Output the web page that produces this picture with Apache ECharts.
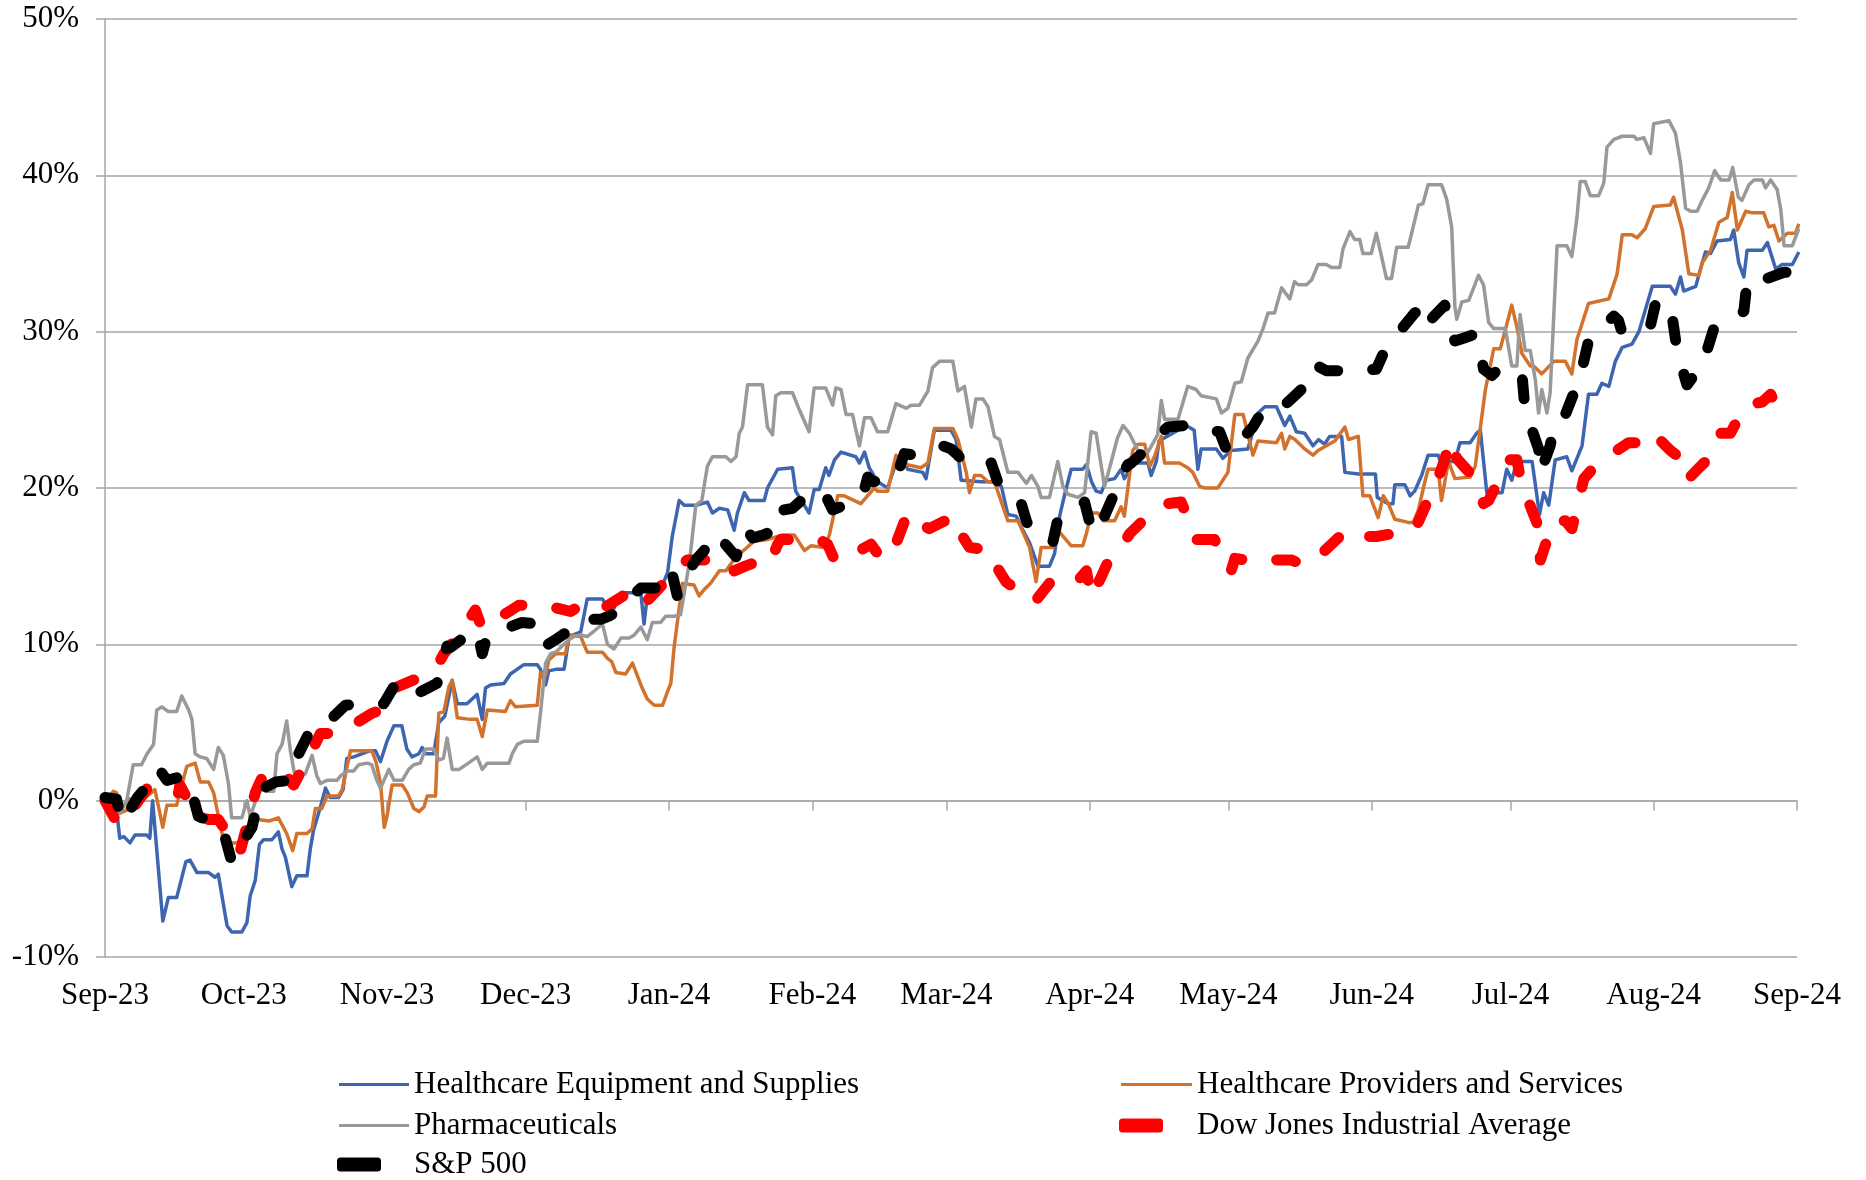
<!DOCTYPE html>
<html>
<head>
<meta charset="utf-8">
<script src="https://cdn.jsdelivr.net/npm/echarts@6/dist/echarts.min.js"></script>
<style>
  html, body { margin: 0; padding: 0; background: #fff; }
  #chart { width: 1866px; height: 1180px; }
</style>
</head>
<body>
<div id="chart"></div>
<script>
// x values are days after 2023-09-01, y values are % change
const startDay = Date.UTC(2023, 8, 1);
const endDay = Date.UTC(2024, 8, 1);
const monthNames = ['Jan', 'Feb', 'Mar', 'Apr', 'May', 'Jun', 'Jul', 'Aug', 'Sep', 'Oct', 'Nov', 'Dec'];

const healthEquip = [
  [0,0],[2.5,-0.6],[3.2,-2.4],[4.1,-2.3],[5.4,-2.7],[6.5,-2.2],[9,-2.2],[9.7,-2.4],[10.3,0],[12.5,-7.7],[13.7,-6.2],[15.5,-6.2],
  [17.5,-3.9],[18.4,-3.8],[19.9,-4.6],[22.4,-4.6],[23.8,-4.9],[24.5,-4.7],[26.4,-8.0],[27.4,-8.4],[29.6,-8.4],[30.7,-7.8],
  [31.4,-6.1],[32.5,-5.1],[33.4,-2.8],[34.3,-2.5],[36.1,-2.5],[37.5,-2.0],[38.3,-3.1],[39,-3.6],[40.4,-5.5],[41.5,-4.8],
  [43.7,-4.8],[44.4,-3.1],[45.1,-1.9],[46.6,-0.4],[47.7,0.8],[48.7,0.2],[50.5,0.2],[51.5,0.7],[52.3,2.7],[53.8,2.8],
  [57.4,3.2],[58.5,3.2],[59.6,2.5],[61,3.8],[62.5,4.8],[64.2,4.8],[65.3,3.3],[66.4,2.8],[67.9,3.0],[68.6,3.4],[69.3,3.0],
  [71.1,3.0],[72.2,5.0],[73.5,5.4],[75.1,7.7],[76.2,6.2],[78.3,6.2],[80.5,6.8],[81.6,5.2],[82.3,7.2],[83.4,7.4],[86.3,7.5],
  [87.7,8.1],[90.6,8.7],[93.5,8.7],[94.2,8.4],[95.3,7.4],[96,8.3],[97.5,8.4],[99.3,8.4],[100.4,10.5],[102.9,10.8],
  [104.3,12.9],[107.6,12.9],[108.7,12.4],[110.1,12.3],[111.6,13.3],[115.9,13.3],[116.6,11.3],[117.3,13.1],[118.8,13.5],
  [120.2,13.5],[121.7,14.6],[122.7,16.9],[124.2,19.2],[125.3,18.9],[127.8,18.9],[130.3,19.1],[131.4,18.4],[132.9,18.7],
  [134.7,18.6],[136.1,17.3],[136.8,18.4],[138.3,19.7],[139.3,19.2],[142.6,19.2],[143.3,20.0],[145.5,21.2],[148.7,21.3],
  [149.4,19.8],[152.3,18.4],[153.4,19.9],[154.5,19.9],[155.9,21.3],[156.6,20.8],[157.8,21.8],[159.2,22.3],[162.4,22.0],
  [163.2,21.6],[164.3,22.3],[165.3,21.3],[167.1,20.4],[169.3,20.0],[171.1,21.6],[172.6,22.1],[173.6,21.2],[176.9,21.0],
  [177.6,20.6],[179.4,23.7],[183,23.7],[184.1,23.1],[185.2,20.5],[189.5,20.4],[192.4,20.4],[193.9,20.1],[195.3,18.3],
  [197.1,18.2],[198.2,17.5],[200,16.5],[201.8,15.0],[204.3,15.0],[205.4,15.8],[206.5,18.2],[207.6,19.6],[209,21.2],
  [211.5,21.2],[212.3,21.5],[213.4,20.4],[214.4,19.8],[215.5,19.7],[216.6,20.5],[218.4,20.6],[219.8,21.2],[220.5,20.6],
  [222.7,21.6],[225.6,21.6],[226.3,20.8],[227.4,21.7],[228,23.0],[233.9,24.0],[235.6,23.7],[236.4,21.2],[237.1,22.5],
  [240.4,22.5],[241.8,21.9],[243.6,22.4],[247.2,22.5],[248,23.3],[249.4,24.8],[250.9,25.2],[253.4,25.2],[255.2,24.0],
  [256.3,24.6],[257.7,23.6],[259.5,23.5],[261.3,22.7],[262.5,23.1],[263.8,22.8],[264.9,23.3],[267.5,23.3],[268.2,21.0],
  [271.1,20.9],[274.8,20.9],[275.2,19.4],[277.6,19.0],[278.6,19.0],[279,20.2],[281.2,20.2],[282.3,19.5],[283.3,19.8],
  [284.8,20.8],[286.2,22.1],[288.4,22.1],[289.5,21.1],[290.3,21.7],[292,21.7],[293.1,22.9],[295.3,22.9],[296.7,23.5],
  [297.5,23.7],[298.9,19.7],[302.2,19.7],[303.2,21.2],[304.3,20.5],[305.4,21.7],[308.7,21.7],[310.3,18.3],[311.2,19.7],
  [312.3,18.9],[313.7,21.8],[316.2,22.0],[317.3,21.1],[319.5,22.7],[320.9,26.0],[322.7,26.0],[323.8,26.7],[325.3,26.5],
  [326.7,28.1],[328.2,29.0],[330.3,29.2],[331.8,30.0],[332.9,31.1],[334.7,32.9],[338.6,32.9],[339.7,32.4],[340.8,33.5],
  [341.5,32.6],[344.1,32.9],[345.1,34.0],[346.2,35.1],[347.3,35.0],[348.7,35.8],[351.6,35.9],[352.3,36.5],[353.4,34.4],
  [354.5,33.5],[355.2,35.2],[358.5,35.2],[359.6,35.7],[361.4,34.0],[362.8,34.3],[365,34.3],[366.4,35.1]
];

const healthProv = [
  [0,0],[1.8,0.6],[2.5,0.5],[3.2,-0.8],[4.7,-0.6],[5.4,0.1],[8.3,0.1],[10.8,0.7],[12.5,-1.7],[13.4,-0.3],[15.5,-0.3],
  [16.6,1.0],[17.7,2.2],[19.5,2.4],[20.6,1.2],[22.4,1.2],[23.5,0.5],[25.6,-2.5],[26.7,-2.7],[28.5,-2.7],[29.6,-2.5],
  [31.4,-1.4],[33,-1.2],[35.5,-1.3],[37.5,-1.1],[39.3,-2.1],[40.6,-3.2],[41.5,-2.1],[43.7,-2.1],[44.8,-1.8],[45.5,-0.5],
  [46.9,-0.5],[48,0.3],[50.5,0.3],[51.3,0.7],[53.1,3.2],[56.7,3.2],[57.7,3.2],[58.6,2.5],[59.6,1.1],[60.4,-1.7],[61,-1.0],
  [62.1,1.0],[64.3,1.0],[65.4,0.5],[66.8,-0.5],[67.9,-0.7],[69,-0.4],[69.7,0.3],[71.5,0.3],[72.2,5.6],[73.3,5.7],[74.4,7.3],
  [75.1,7.7],[76.2,5.3],[79,5.2],[80.5,5.2],[81.6,4.1],[82.7,5.8],[86.6,5.7],[87.7,6.4],[88.8,6.0],[93.5,6.1],[94.2,8.2],
  [95.3,8.0],[96,9.0],[97.5,9.4],[99.6,9.4],[100.4,10.6],[102.9,10.5],[104.3,9.5],[107.6,9.5],[108.7,9.1],[109.6,8.9],
  [110.5,8.2],[112.6,8.1],[114.1,8.8],[116.2,7.2],[117.3,6.5],[118.8,6.1],[120.6,6.1],[121.7,7.0],[122.4,7.5],[123.1,9.8],
  [124.9,13.9],[127.4,13.8],[128.5,13.1],[129.6,13.5],[131,13.9],[132.9,14.7],[134.3,14.7],[136.5,15.6],[138.5,16.1],
  [140.4,16.6],[143.3,16.7],[146.5,17.0],[149.1,17.0],[151.3,16.0],[152.7,16.3],[155.6,16.2],[156.7,17.0],[158.5,19.5],
  [159.9,19.5],[163.5,19.0],[166.4,20.0],[167.1,19.8],[169.3,19.8],[171.1,22.1],[173.3,21.5],[176.5,21.3],[178,21.6],
  [179.4,23.8],[183.4,23.8],[184.5,23.1],[186.3,21.0],[187,19.7],[188.1,20.8],[189.5,20.8],[191,20.4],[192.4,20.4],
  [195.3,17.9],[197.5,17.9],[200,16.2],[201.4,14.0],[202.5,16.2],[205,16.2],[206.1,17.3],[209,16.3],[211.5,16.3],
  [212.3,17.1],[213.3,18.4],[214.8,18.4],[215.9,17.9],[218.4,17.9],[219.8,18.8],[220.5,18.2],[221.3,20.1],[222.3,22.4],
  [223.4,22.8],[224.9,22.8],[226,21.4],[227,22.0],[228.5,23.3],[229.2,21.6],[232.4,21.6],[234.2,21.3],[235.3,21.0],
  [236.8,20.1],[237.9,20.0],[240.7,20.0],[242.9,21.0],[244.4,24.7],[246.2,24.7],[248.3,22.1],[249.4,23.0],[253.4,22.9],
  [254.5,23.5],[255.2,22.5],[256.3,23.3],[257.4,23.1],[259.5,22.5],[261.3,22.1],[262.4,22.4],[266,23.0],[268.2,23.9],
  [269,23.1],[271.1,23.3],[272.1,19.5],[273.6,19.5],[275.4,18.1],[276.5,19.5],[277.6,19.0],[279,18.0],[281.9,17.8],
  [283,17.8],[284.1,18.6],[285.5,20.4],[286.2,21.2],[288.4,21.2],[289.1,19.2],[290.6,21.7],[292,20.6],[295.3,20.7],
  [296.4,21.4],[298.6,26.3],[300.4,28.9],[301.8,28.9],[302.9,30.1],[304.3,31.7],[305.4,30.3],[306.5,28.6],[308.3,27.8],
  [309,27.8],[310.8,27.3],[313.4,28.1],[315.9,28.1],[317.3,27.3],[318.4,29.5],[320.9,31.8],[323.8,32.0],[325.3,32.1],
  [327.1,33.7],[328.2,36.2],[330.3,36.2],[331.4,36.0],[333.2,36.6],[335,38.0],[338.6,38.1],[339.3,38.6],[341.2,36.5],
  [342.6,33.7],[344.8,33.6],[345.5,34.4],[347.3,35.2],[349.1,37.0],[350.9,37.3],[352,38.9],[353.1,36.5],[354.9,37.7],
  [356.3,37.6],[358.8,37.6],[359.9,36.7],[361,36.8],[362.1,35.8],[363.9,36.3],[365.7,36.3],[366.4,36.9]
];

const pharma = [
  [0,0],[2.5,-0.2],[3.2,-0.8],[4.7,0],[6.1,2.3],[7.9,2.3],[9.1,3.0],[10.5,3.6],[11.2,5.8],[12.3,6.0],[13.7,5.7],[15.5,5.7],
  [16.6,6.7],[18.1,5.8],[18.8,5.2],[19.5,3.0],[20.6,2.8],[22,2.7],[23.5,2.0],[24.5,3.4],[25.6,2.9],[26.7,1.1],[27.4,-1.1],
  [29.6,-1.1],[30.7,0],[31.4,-1.0],[33.2,0.5],[33.6,1.3],[35,0.6],[36.5,0.6],[37.2,3.0],[38.3,3.6],[39.3,5.1],[40.1,3.2],
  [41,1.7],[43.3,1.7],[44.8,2.9],[45.8,1.6],[46.6,1.1],[48,1.3],[50.2,1.3],[51,1.6],[52.5,1.9],[53.8,1.9],[54.9,2.3],
  [56.7,2.4],[57.7,2.3],[58.8,1.3],[59.6,0.8],[61.4,2.0],[62.5,1.3],[64.3,1.3],[65.7,2.0],[66.8,2.3],[68.2,2.4],[69.3,3.3],
  [71.1,3.3],[72.2,2.6],[73.2,2.7],[74,4.0],[75.1,2.0],[76.6,2.0],[78.6,2.4],[80.5,2.8],[81.6,2.0],[82.7,2.4],[87.4,2.4],
  [88.1,3.0],[89.2,3.6],[90.6,3.8],[93.5,3.8],[94.2,5.6],[95.3,8.8],[96.4,9.4],[97.5,9.5],[98.9,9.9],[100,10.2],
  [101.4,10.5],[102.9,10.6],[104.3,10.5],[106,10.9],[107.6,11.3],[108.7,10.0],[110.1,9.7],[111.6,10.4],[113.4,10.4],
  [114.5,10.6],[115.9,11.1],[117.3,10.3],[118.4,11.4],[120.2,11.4],[121.3,11.8],[123.1,11.8],[124.5,11.9],[126.4,15.2],
  [127.8,18.9],[129.1,19.2],[130.3,21.4],[131.4,22.0],[134.3,22.0],[135.4,21.7],[136.5,22.0],[137.2,23.5],[137.9,23.9],
  [139,26.6],[142.2,26.6],[143.3,23.9],[144.4,23.4],[145.1,25.9],[146.2,26.1],[148.7,26.1],[150.2,25.0],[152.3,23.6],
  [153.4,26.4],[155.9,26.4],[157.4,25.3],[158.1,26.4],[159.2,26.3],[160.3,24.7],[161.7,24.7],[163.2,22.7],[164.3,24.5],
  [165.7,24.5],[167.1,23.6],[169.3,23.6],[171.1,25.4],[173.3,25.1],[174.4,25.3],[176.2,25.3],[178,26.2],[179,27.7],
  [180.5,28.1],[183.4,28.1],[184.5,26.2],[185.9,26.5],[187.4,23.9],[188.4,25.7],[189.9,25.7],[191,25.2],[192.4,23.3],
  [193.5,23.1],[195.3,21.0],[197.5,21.0],[199.3,20.3],[200.4,20.8],[201.8,20.1],[202.5,19.4],[204.3,19.4],[206.1,21.7],
  [207.2,20.1],[208.3,19.6],[210.5,19.4],[211.9,19.7],[213.3,23.6],[214.4,23.5],[216.2,20.1],[217.5,21.5],[219,23.2],
  [220.2,24.0],[221.6,23.5],[223.4,22.4],[225.6,22.3],[227.7,23.4],[228.5,25.6],[229.2,24.4],[232.1,24.4],[234.2,26.5],
  [236,26.3],[237.1,25.9],[240.4,25.7],[241.5,24.8],[242.9,25.1],[244.4,26.7],[245.8,26.8],[247.2,28.3],[249.4,29.4],
  [250.5,30.2],[251.6,31.2],[253,31.2],[254.5,32.8],[256.3,32.1],[257.3,33.2],[258.1,33.0],[259.9,33.0],[261,33.3],
  [262.4,34.3],[264.2,34.3],[265.3,34.1],[267.1,34.1],[267.8,35.3],[269.3,36.4],[270.3,35.9],[271.4,35.9],[272.1,35.0],
  [273.9,35.0],[275,36.3],[277.2,33.4],[278.3,33.4],[279.4,35.4],[281.9,35.4],[283.3,37.1],[284.1,38.1],[285.1,38.2],
  [286.2,39.4],[289.1,39.4],[290.2,38.5],[291.3,36.7],[292,31.6],[292.4,30.8],[293.5,31.9],[295,32.0],[297.1,33.6],
  [298.2,33.0],[299.3,30.6],[300.4,30.2],[302.9,30.2],[304.3,27.8],[305.4,27.8],[306.1,31.1],[307.2,28.8],[308.3,28.8],
  [309.4,26.9],[310.1,24.8],[310.8,26.3],[311.9,24.8],[312.6,26.1],[314.1,35.5],[316.2,35.5],[317.3,34.8],[318.4,37.3],
  [319.1,39.6],[320.2,39.6],[321.3,38.7],[323.1,38.7],[324.2,39.5],[324.9,41.8],[326.4,42.3],[328.2,42.5],[330.7,42.5],
  [331.4,42.3],[332.9,42.4],[334.3,41.4],[335,43.3],[338.3,43.5],[339.7,42.7],[340.8,40.8],[341.9,37.9],[343,37.7],
  [344.4,37.7],[345.5,38.4],[346.9,39.2],[348.2,40.3],[349.5,39.7],[351.3,39.7],[352.1,40.5],[353.3,38.6],[354.1,38.4],
  [355.6,39.4],[356.7,39.7],[358.5,39.7],[359.2,39.2],[360.3,39.7],[361.7,39.1],[362.5,37.8],[363.2,35.5],[365,35.5],
  [366.4,36.6]
];

const dowJones = [
  [0,0],[2.2,-1.2],[4,-1.5],[6.5,-0.3],[9.4,0.9],[11,0.6],[12.6,0.4],[15.9,0.5],[16.2,1.0],[18,0],[19.9,-1.0],[22.4,-1.2],
  [24.5,-1.2],[27,-2.3],[29.2,-3.3],[30.7,-1.6],[32.5,0.5],[34.3,1.7],[38.3,1.9],[40.8,1.0],[43,2.2],[45.1,3.4],[46.6,4.3],
  [50.9,4.3],[54.5,5.0],[57.8,5.6],[59.9,5.8],[61.7,7.1],[65,7.5],[68.2,7.9],[70.4,8.4],[71.8,8.6],[73.3,9.4],[75.5,10.2],
  [78.3,11.4],[80.1,12.2],[81.6,11.0],[84.5,11.6],[87.4,12.1],[89.5,12.5],[94.9,12.5],[98,12.3],[100.7,12.1],[102.9,12.5],
  [107.2,12.2],[110.5,12.8],[113.7,13.4],[115.9,13.4],[117,12.7],[120.5,13.8],[124.2,15.0],[126,15.4],[129,15.4],
  [132.1,15.4],[134.6,15.4],[136.1,14.7],[138.5,15.0],[141.2,15.3],[143.7,15.1],[145.5,16.4],[146.2,16.7],[150,16.7],
  [154.5,16.7],[156.3,16.4],[157.8,15.4],[158.5,15.3],[162,15.8],[165.7,16.4],[167.9,15.5],[169.3,15.5],[170.8,16.2],
  [172.2,17.3],[173.6,18.4],[175.1,17.9],[178.3,17.4],[181,17.8],[183.7,18.2],[185.5,16.9],[187,16.2],[189.5,16.1],
  [191.7,16.0],[192.8,15.0],[194.9,14.0],[198,13.3],[201.1,12.7],[203.2,13.5],[205.4,14.3],[208,14.2],[210.5,14.1],
  [212.3,14.7],[213.3,13.0],[215.3,14.2],[217.3,15.5],[219.1,15.9],[221.7,17.1],[224.5,17.9],[227.4,18.7],[229.9,19.0],
  [232.8,19.1],[234.5,17.9],[236,16.7],[240,16.7],[241.8,15.6],[243.6,14.7],[244.4,15.5],[246.5,15.4],[248.3,15.5],
  [252.5,15.4],[256.6,15.4],[259.2,15.1],[261.3,15.7],[263.5,15.9],[266,16.6],[268.5,17.3],[271.8,16.9],[275,16.9],
  [279,17.1],[283.3,17.3],[285.1,18.5],[286.6,19.5],[288.3,20.6],[289.8,21.8],[290.9,23.1],[292.4,21.9],[294.5,21.2],
  [296.7,20.5],[298.2,19.0],[299.3,19.2],[301.5,20.5],[303.6,21.8],[305.4,21.8],[306.5,20.1],[308.1,19.0],[309.7,17.8],
  [310.5,15.4],[311.5,16.3],[312.6,17.1],[313.4,17.9],[315.9,17.9],[317.3,17.4],[318.6,19.0],[319.9,20.6],[321.7,21.2],
  [324.5,21.9],[327,22.4],[329.6,22.9],[332.1,22.9],[334.7,23.6],[336.6,23.0],[338.6,22.4],[340.8,21.9],[342.2,20.5],
  [344.5,21.2],[346.9,21.9],[349.1,23.5],[351.6,23.5],[353.2,24.4],[354.9,25.3],[358.5,25.5],[360.3,26.0],[361.4,25.3],
  [363,25.4]
];

const sp500 = [
  [0,0.2],[2.5,0.1],[3.6,-1.4],[5,-0.8],[7,0.2],[8.7,0.8],[11.5,2.1],[13.4,1.3],[16,1.5],[18.1,1.3],[20.2,-1.0],[22.5,-1.3],
  [25.3,-1.6],[27.4,-3.9],[29.5,-2.8],[31.8,-1.7],[33.6,0.7],[37,1.2],[40.1,1.3],[41.9,3.0],[43.9,4.2],[45.8,5.0],
  [49.5,5.4],[52,6.1],[56,6.2],[60.3,6.2],[62.5,7.3],[63.9,7.3],[65.7,6.6],[68.5,7.0],[71.8,7.5],[74,9.9],[74.7,9.8],
  [77.5,10.4],[80.5,10.9],[81.6,9.4],[82.7,10.6],[86.5,11.0],[90.2,11.4],[93.9,11.3],[95.3,9.9],[98,10.4],[100.4,10.9],
  [102.2,11.5],[104.3,11.6],[107.2,11.6],[109,11.8],[110.8,12.1],[112.6,12.7],[115.9,13.6],[119,13.6],[122.4,14.9],
  [123.8,13.1],[125.8,14.5],[127.8,15.4],[129.6,16.0],[132.1,17.1],[134.5,16.3],[136.5,15.6],[138.6,17.4],[140.1,16.8],
  [142.5,17.0],[144.8,17.3],[145.1,18.5],[148.7,18.7],[151,19.3],[153.8,19.8],[155.6,19.7],[157.4,18.6],[160,18.9],
  [162.1,19.2],[163.9,19.5],[165,20.7],[166.1,20.4],[168.5,20.5],[171.1,20.6],[172.9,22.2],[175.1,22.1],[178,22.4],
  [181.2,22.7],[183,22.5],[184.5,22.1],[185.9,21.6],[187.5,21.5],[189.2,21.5],[191.7,21.6],[193.1,20.4],[195,20.0],
  [197.1,19.6],[198.2,19.0],[199.3,17.9],[200,17.4],[202.5,17.0],[205,16.5],[206.1,18.0],[207.9,18.2],[210,18.6],
  [211.9,19.1],[213,17.8],[214.8,17.1],[216.5,18.4],[218.4,19.7],[219.1,20.5],[221.3,21.5],[222,21.6],[225,22.4],
  [227.7,23.3],[229.9,23.9],[233.9,24.0],[236,23.8],[238.6,23.7],[241.1,23.6],[242.9,22.2],[245.5,23.0],[248.3,23.9],
  [250.1,24.8],[253.7,24.9],[257,25.8],[260.2,26.7],[261.7,27.9],[264.2,27.5],[268,27.5],[271.8,27.5],[275,27.6],
  [276.8,28.8],[280,30.0],[283.3,31.2],[284,31.3],[285.1,30.2],[287.5,31.0],[289.8,31.7],[292,29.4],[294,29.6],[296,29.8],
  [297,29.6],[298.2,27.6],[300,27.2],[301.4,27.6],[303.6,27.3],[306.5,27.3],[307.2,24.9],[308.7,23.7],[310.1,22.5],
  [310.5,21.0],[311.5,21.8],[312.6,22.7],[313.7,24.3],[315.9,24.7],[317.5,25.9],[319.1,27.1],[320.9,29.4],[323.5,30.2],
  [326.4,31.0],[327.4,30.7],[328.2,29.9],[331,30.1],[334.3,30.4],[335.4,31.8],[338.6,31.8],[340.1,28.7],[342.2,26.6],
  [344,27.3],[345.8,28.1],[348,30.2],[351,30.7],[354.5,31.3],[355.2,33.2],[356.3,33.0],[359.5,33.4],[363.2,33.8],
  [365,33.8],[366.4,34.5]
];

const seriesNames = [
  'Healthcare Equipment and Supplies',
  'Healthcare Providers and Services',
  'Pharmaceuticals',
  'Dow Jones Industrial Average',
  'S&P 500'
];

const DAY = 86400000;
function toPoints(arr) {
  return arr.map(function (p) { return [startDay + p[0] * DAY, p[1]]; });
}

const serifFont = '"Liberation Serif", "DejaVu Serif", serif';
const gridColor = '#a6a6a6';
const dashPattern = [19, 35];

let myChart = echarts.init(document.getElementById('chart'));

const legendText = { fontFamily: serifFont, fontSize: 31, color: '#000' };
function oneLegend(name, icon, left, top, w, h, pad) {
  return {
    data: [{ name: name, icon: icon }],
    left: left, top: top,
    itemWidth: w, itemHeight: h,
    padding: 0,
    selectedMode: false,
    itemStyle: { borderWidth: 0 },
    textStyle: Object.assign({ padding: [0, 0, 0, pad] }, legendText)
  };
}

myChart.setOption({
  useUTC: true,
  animation: false,
  backgroundColor: '#fff',
  grid: { left: 105, right: 69, top: 19, bottom: 223, containLabel: false, outerBoundsMode: 'none' },
  legend: [
    oneLegend(seriesNames[0], 'rect', 339, 1069, 70, 3, 0),
    oneLegend(seriesNames[1], 'rect', 1121, 1069, 71, 3, 0),
    oneLegend(seriesNames[2], 'rect', 339, 1110, 70, 3, 0),
    oneLegend(seriesNames[3], 'roundRect', 1119, 1110, 44, 14, 29),
    oneLegend(seriesNames[4], 'roundRect', 337, 1149, 44, 14, 28)
  ],
  xAxis: [{
    // axis line through 0% with month ticks
    type: 'time',
    min: startDay, max: endDay,
    splitNumber: 12,
    minInterval: 28 * DAY, maxInterval: 31 * DAY,
    axisLine: { onZero: true, lineStyle: { color: gridColor, width: 1.5 } },
    axisTick: { show: true, length: 10, lineStyle: { color: gridColor, width: 1.5 } },
    axisLabel: { show: false },
    splitLine: { show: false }
  }, {
    // month labels along the bottom
    type: 'time',
    position: 'bottom',
    min: startDay, max: endDay,
    splitNumber: 12,
    minInterval: 28 * DAY, maxInterval: 31 * DAY,
    axisLine: { show: false, onZero: false },
    axisTick: { show: false },
    splitLine: { show: false },
    axisLabel: {
      margin: 23,
      fontFamily: serifFont, fontSize: 31, color: '#000',
      hideOverlap: false,
      formatter: function (val) {
        const d = new Date(val);
        return monthNames[d.getUTCMonth()] + '-' + String(d.getUTCFullYear()).slice(2);
      }
    }
  }],
  yAxis: {
    type: 'value',
    min: -10, max: 50, interval: 10,
    axisLine: { show: true, lineStyle: { color: gridColor, width: 1.5 } },
    axisTick: { show: true, length: 9, lineStyle: { color: gridColor, width: 1.5 } },
    splitLine: { show: true, lineStyle: { color: gridColor, width: 1.5 } },
    axisLabel: {
      margin: 26,
      fontFamily: serifFont, fontSize: 31, color: '#000',
      formatter: '{value}%'
    }
  },
  series: [{
    name: seriesNames[0], type: 'line', showSymbol: false, symbol: 'none',
    data: toPoints(healthEquip),
    itemStyle: { color: '#3e66b0' },
    lineStyle: { color: '#3e66b0', width: 3.5, join: 'round' }
  }, {
    name: seriesNames[1], type: 'line', showSymbol: false, symbol: 'none',
    data: toPoints(healthProv),
    itemStyle: { color: '#d2722c' },
    lineStyle: { color: '#d2722c', width: 3.5, join: 'round' }
  }, {
    name: seriesNames[2], type: 'line', showSymbol: false, symbol: 'none',
    data: toPoints(pharma),
    itemStyle: { color: '#999999' },
    lineStyle: { color: '#999999', width: 3.5, join: 'round' }
  }, {
    name: seriesNames[3], type: 'line', showSymbol: false, symbol: 'none',
    data: toPoints(dowJones),
    itemStyle: { color: '#ff0000' },
    lineStyle: { color: '#ff0000', width: 11, type: dashPattern, cap: 'round', join: 'round' }
  }, {
    name: seriesNames[4], type: 'line', showSymbol: false, symbol: 'none',
    data: toPoints(sp500),
    itemStyle: { color: '#000000' },
    lineStyle: { color: '#000000', width: 11, type: dashPattern, cap: 'round', join: 'round' }
  }]
});
</script>
</body>
</html>
